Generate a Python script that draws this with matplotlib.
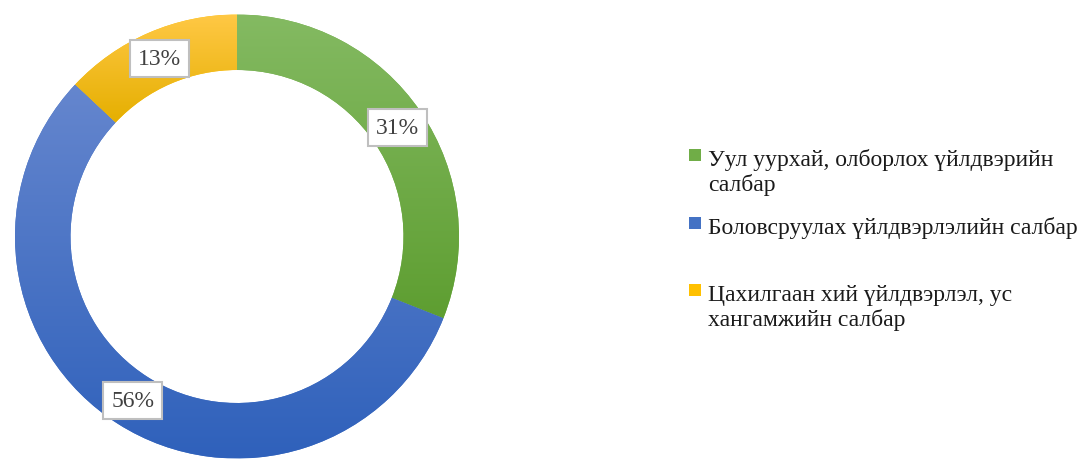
import numpy as np
import matplotlib
matplotlib.use("Agg")
import matplotlib.pyplot as plt
from matplotlib.colors import to_rgb
from matplotlib.patches import Rectangle

# data
categories = ["Уул уурхай, олборлох үйлдвэрийн\nсалбар",
              "Боловсруулах үйлдвэрлэлийн салбар",
              "Цахилгаан хий үйлдвэрлэл, ус\nхангамжийн салбар"]
shares = [31, 56, 13]

# top / bottom colours of each slice gradient
grad_top = ["#84BA62", "#6586CE", "#FFC845"]
grad_bot = ["#5E9E31", "#2F61BB", "#E5AF00"]
solid = ["#70AD47", "#4472C4", "#FFC000"]

plt.rcParams['font.family'] = ['Liberation Serif', 'DejaVu Serif']

W, H = 1087, 460
fig = plt.figure(figsize=(W / 100, H / 100), dpi=100)
ax = fig.add_axes([15 / W, 0.5 / H, 444 / W, 444 / H])

wedges, texts, autotexts = ax.pie(
    shares, startangle=90, counterclock=False, radius=1.0,
    colors=solid, wedgeprops=dict(width=0.25, edgecolor='none'),
    autopct=lambda p: f"{p:.0f}%", pctdistance=0.875,
    textprops=dict(fontsize=17, color='#404040'))

# vertical gradient fill clipped to each wedge
for w, ct, cb in zip(wedges, grad_top, grad_bot):
    ext = w.get_path().transformed(w.get_patch_transform()).get_extents()
    t = np.linspace(0, 1, 256)[:, None]
    img = (1 - t) * np.array(to_rgb(ct)) + t * np.array(to_rgb(cb))
    img = img[:, None, :]
    im = ax.imshow(img, extent=[ext.x0, ext.x1, ext.y0, ext.y1],
                   origin='upper', aspect='auto', zorder=2)
    im.set_clip_path(w)

for at in autotexts:
    at.set_zorder(5)
    at.set_bbox(dict(boxstyle='square,pad=0.34', facecolor='white',
                     edgecolor='#BFBFBF', linewidth=1.5))

ax.set_xlim(-1, 1)
ax.set_ylim(-1, 1)
ax.set_aspect('equal')
ax.axis('off')

# legend: one square per entry, each text line placed at its own baseline
baselines = [166, 234, 301]
line_step = 25
for lab, c, yb in zip(categories, solid, baselines):
    fig.add_artist(Rectangle((689 / W, 1 - (yb - 4) / H), 12 / W, 12 / H,
                             transform=fig.transFigure, facecolor=c,
                             edgecolor='none'))
    for k, line in enumerate(lab.split("\n")):
        fig.text(708 / W, 1 - (yb + k * line_step) / H, line, fontsize=17,
                 va='baseline', ha='left', color='#1A1A1A')

fig.savefig("out.png", dpi=100)
